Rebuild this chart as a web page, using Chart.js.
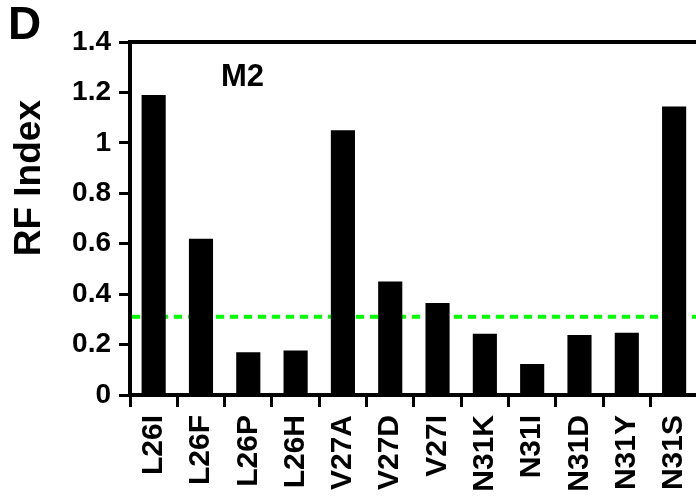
<!DOCTYPE html>
<html>
<head>
<meta charset="utf-8">
<script src="https://cdn.jsdelivr.net/npm/chart.js@4/dist/chart.umd.min.js"></script>
<style>
  html, body { margin: 0; padding: 0; background: #fff; overflow: hidden; }
  #wrap { width: 719px; height: 499px; }
</style>
</head>
<body>
<div id="wrap"><canvas id="grafico" width="719" height="499"></canvas></div>
<script>
// Datos (RF Index por mutante)
const mutantes = ['L26I', 'L26F', 'L26P', 'L26H', 'V27A', 'V27D', 'V27I', 'N31K', 'N31I', 'N31D', 'N31Y', 'N31S'];
const rfIndex = [1.19, 0.62, 0.17, 0.176, 1.05, 0.45, 0.365, 0.243, 0.123, 0.238, 0.247, 1.144];
const umbral = 0.31;
const yTicks = [0, 0.2, 0.4, 0.6, 0.8, 1, 1.2, 1.4];
const yTickLabels = ['0', '0.2', '0.4', '0.6', '0.8', '1', '1.2', '1.4'];
const tituloY = 'RF Index';
const panel = 'D';
const proteina = 'M2';

(function(){
  'use strict';
  const FONT = '"Liberation Sans", Arial, sans-serif';

  // Linea discontinua del umbral y textos sueltos
  const extras = {
    id: 'extras',
    beforeDatasetsDraw(chart) {
      const { ctx, chartArea, scales } = chart;
      const y = scales.y.getPixelForValue(umbral);
      ctx.save();
      ctx.strokeStyle = '#00ff00';
      ctx.lineWidth = 4;
      ctx.setLineDash([8, 6]);
      ctx.beginPath();
      ctx.moveTo(chartArea.left + 2, y);
      ctx.lineTo(chartArea.right, y);
      ctx.stroke();
      ctx.restore();
    },
    afterDraw(chart) {
      const { ctx, chartArea, scales } = chart;
      ctx.save();
      ctx.fillStyle = '#000';
      // Titulo del eje Y
      ctx.font = 'bold 37px ' + FONT;
      ctx.textAlign = 'center';
      ctx.textBaseline = 'middle';
      ctx.translate(30, scales.y.getPixelForValue(0.86));
      ctx.rotate(-Math.PI / 2);
      ctx.fillText(tituloY, 0, 0);
      ctx.restore();

      ctx.save();
      ctx.fillStyle = '#000';
      ctx.textAlign = 'left';
      ctx.textBaseline = 'top';
      ctx.font = 'bold 46px ' + FONT;
      ctx.fillText(panel, 8, 3);
      ctx.font = 'bold 31px ' + FONT;
      ctx.fillText(proteina, chartArea.left + 91, chartArea.top + 20);
      ctx.restore();
    }
  };

  const ctxBar = document.getElementById('grafico');
  new Chart(ctxBar, {
    type: 'bar',
    data: {
      labels: mutantes,
      datasets: [{
        label: tituloY,
        data: rfIndex,
        backgroundColor: '#000',
        borderWidth: 0,
        barPercentage: 0.51,
        categoryPercentage: 1
      }]
    },
    options: {
      responsive: false,
      animation: false,
      devicePixelRatio: 1,
      layout: { padding: { top: 42, right: 20, left: 0, bottom: 0 } },
      plugins: { legend: { display: false }, tooltip: { enabled: false } },
      scales: {
        x: {
          afterFit: s => { s.height = 104; },
          grid: { display: true, drawOnChartArea: false, drawTicks: true, tickLength: 12, lineWidth: 3, color: '#000', offset: true },
          border: { display: true, width: 4, color: '#000' },
          ticks: {
            color: '#000',
            font: { family: FONT, size: 30, weight: 'bold' },
            minRotation: 90, maxRotation: 90,
            padding: 8,
            autoSkip: false
          }
        },
        xTop: {
          position: 'top',
          type: 'category',
          labels: mutantes,
          afterFit: s => { s.height = 0; },
          grid: { display: false, drawTicks: false },
          border: { display: true, width: 4, color: '#000' },
          ticks: { display: false }
        },
        y: {
          min: 0,
          max: 1.4,
          afterFit: s => { s.width = 130; },
          afterBuildTicks: s => { s.ticks = yTicks.map(v => ({ value: v })); },
          grid: { display: true, drawOnChartArea: false, drawTicks: true, tickLength: 11, lineWidth: 3, color: '#000' },
          border: { display: true, width: 4, color: '#000' },
          ticks: {
            color: '#000',
            font: { family: FONT, size: 28, weight: 'bold' },
            padding: 8,
            callback: (v, i) => yTickLabels[i]
          }
        }
      }
    },
    plugins: [extras]
  });
})();
</script>
</body>
</html>
